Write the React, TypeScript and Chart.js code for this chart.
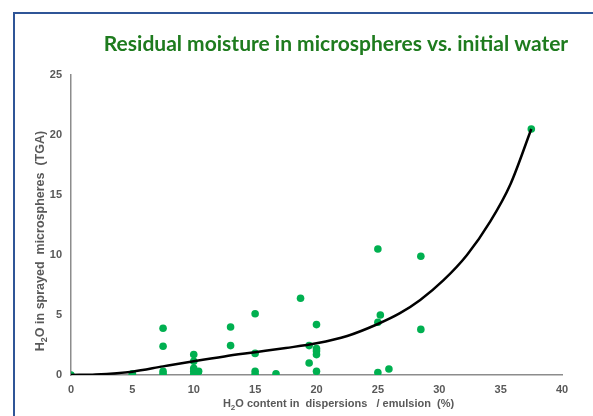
import React, { useEffect, useRef } from 'react';
import { Chart, registerables } from 'chart.js';

Chart.register(...registerables);

const TITLE = 'Residual moisture in microspheres vs. initial water';
const X_TITLE_PARTS = ['H', '2', 'O content in  dispersions   / emulsion  (%)'];
const Y_TITLE_PARTS = ['H', '2', 'O in sprayed  microspheres  (TGA)'];

const X_TICKS = [0, 5, 10, 15, 20, 25, 30, 35, 40];
const Y_TICKS = [0, 5, 10, 15, 20, 25];

// measured samples
const sampleX = [0, 5, 5, 7.5, 7.5, 7.5, 7.5, 10, 10, 10, 10, 10, 10.3, 10.4, 13, 13, 15, 15, 15, 15, 16.7, 18.7, 19.4, 19.4, 20, 20, 20, 20, 20, 25, 25.2, 25, 25, 25.9, 28.5, 28.5, 37.5];
const sampleY = [0, 0.1, 0, 3.9, 2.4, 0.3, 0.1, 1.7, 1.15, 0.55, 0.3, 0.05, 0.25, 0.3, 4.0, 2.45, 5.1, 1.8, 0.3, 0.05, 0.1, 6.4, 2.45, 1.0, 4.2, 2.2, 2.0, 1.7, 0.3, 10.5, 5.0, 4.4, 0.2, 0.5, 9.9, 3.8, 20.5];

// trend curve
const trendX = [0, 2, 5, 7.5, 10, 12.5, 15, 17.5, 20, 22.5, 25, 26.8, 28.45, 30.35, 32.26, 34.16, 35.8, 37.5];
const trendY = [0, 0.05, 0.28, 0.72, 1.15, 1.55, 1.9, 2.25, 2.64, 3.25, 4.25, 5.15, 6.25, 7.9, 10.0, 12.8, 15.9, 20.5];

const GREEN = '#00B050';
const AXIS_TEXT = '#595959';
const TITLE_GREEN = '#1E7B1E';
const TEXT_FONT = '"Liberation Sans", Arial, sans-serif';

function drawSubText(ctx: CanvasRenderingContext2D, parts: string[], size: number) {
  const main = `bold ${size}px ${TEXT_FONT}`;
  const sub = `bold ${Math.round(size * 0.7)}px ${TEXT_FONT}`;
  ctx.font = main;
  const w0 = ctx.measureText(parts[0]).width;
  const w2 = ctx.measureText(parts[2]).width;
  ctx.font = sub;
  const w1 = ctx.measureText(parts[1]).width;
  const total = w0 + w1 + w2;
  let x = -total / 2;
  ctx.textBaseline = 'middle';
  ctx.textAlign = 'left';
  ctx.font = main;
  ctx.fillText(parts[0], x, 0);
  x += w0;
  ctx.font = sub;
  ctx.fillText(parts[1], x, size * 0.3);
  x += w1;
  ctx.font = main;
  ctx.fillText(parts[2], x, 0);
}

const textPlugin = {
  id: 'textPlugin',
  afterDraw(chart: any) {
    const { ctx, chartArea } = chart;
    // main title
    ctx.save();
    ctx.fillStyle = TITLE_GREEN;
    ctx.font = 'bold 21px Lato, sans-serif';
    ctx.textAlign = 'center';
    ctx.textBaseline = 'middle';
    ctx.fillText(TITLE, 336, 44);
    ctx.restore();

    ctx.save();
    ctx.fillStyle = AXIS_TEXT;
    const cx = (chartArea.left + chartArea.right) / 2 + 22;
    ctx.translate(cx, chartArea.bottom + 29);
    drawSubText(ctx, X_TITLE_PARTS, 11);
    ctx.restore();

    ctx.save();
    ctx.fillStyle = AXIS_TEXT;
    const cy = (chartArea.top + chartArea.bottom) / 2 + 16;
    ctx.translate(41, cy);
    ctx.rotate(-Math.PI / 2);
    drawSubText(ctx, Y_TITLE_PARTS, 12.5);
    ctx.restore();
  },
};

export default function App() {
  const ref = useRef<HTMLCanvasElement | null>(null);

  useEffect(() => {
    if (!ref.current) return;
    const chart = new Chart(ref.current, {
      type: 'scatter',
      data: {
        datasets: [
          {
            type: 'line',
            label: 'trend',
            data: trendX.map((x, i) => ({ x, y: trendY[i] })),
            borderColor: '#000000',
            borderWidth: 2.5,
            pointRadius: 0,
            showLine: true,
            fill: false,
            cubicInterpolationMode: 'monotone',
          } as any,
          {
            label: 'samples',
            data: sampleX.map((x, i) => ({ x, y: sampleY[i] })),
            backgroundColor: GREEN,
            borderColor: GREEN,
            pointRadius: 3.8,
            pointBorderWidth: 0,
          },
        ],
      },
      options: {
        animation: false,
        responsive: true,
        maintainAspectRatio: false,
        layout: { padding: { top: 75, left: 0, right: 31, bottom: 0 } },
        plugins: {
          legend: { display: false },
          tooltip: { enabled: false },
          title: { display: false },
        },
        scales: {
          x: {
            type: 'linear',
            min: X_TICKS[0],
            max: X_TICKS[X_TICKS.length - 1],
            ticks: {
              stepSize: X_TICKS[1] - X_TICKS[0],
              color: AXIS_TEXT,
              font: { family: TEXT_FONT, size: 11, weight: 'bold' },
              padding: 8,
            },
            grid: { display: false, drawTicks: false },
            border: { display: true, color: '#8C8C8C', width: 1.5 },
            afterFit: (s: any) => { s.height = 41; },
          },
          y: {
            type: 'linear',
            min: Y_TICKS[0],
            max: Y_TICKS[Y_TICKS.length - 1],
            ticks: {
              stepSize: Y_TICKS[1] - Y_TICKS[0],
              color: AXIS_TEXT,
              font: { family: TEXT_FONT, size: 11, weight: 'bold' },
              padding: 9,
            },
            grid: { display: false, drawTicks: false },
            border: { display: true, color: '#8C8C8C', width: 1.5 },
            afterFit: (s: any) => { s.width = 71; },
          },
        },
      },
      plugins: [textPlugin],
    });
    return () => chart.destroy();
  }, []);

  return (
    <div style={{ position: 'fixed', left: 0, top: 0, width: 593, height: 416, background: '#fff' }}>
      <div style={{ position: 'absolute', left: 13, top: 12, width: 580, height: 2, background: '#2F5597' }} />
      <div style={{ position: 'absolute', left: 13, top: 12, width: 2, height: 404, background: '#2F5597' }} />
      <div style={{ position: 'absolute', left: 0, top: 0, width: 593, height: 416 }}>
        <canvas ref={ref} />
      </div>
    </div>
  );
}
